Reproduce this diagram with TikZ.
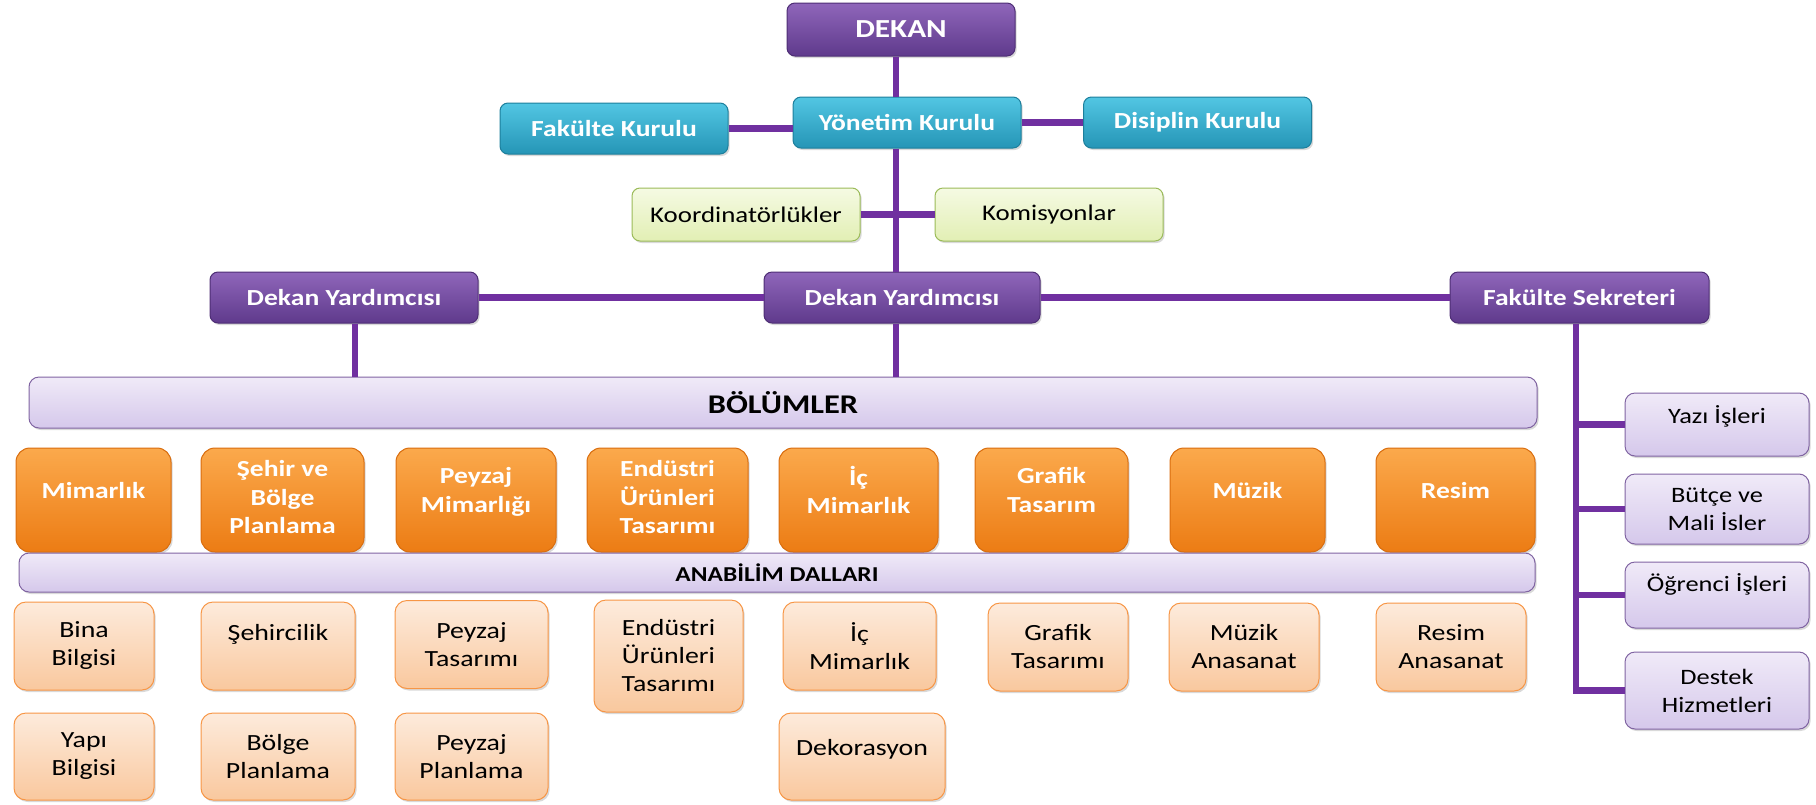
\documentclass[tikz,border=0pt]{standalone}
\usepackage{fontspec}
\setmainfont{Carlito}[FakeStretch=1.2]
\usetikzlibrary{shadows}
\definecolor{linkpurple}{HTML}{7030A0}
\definecolor{purpletop}{HTML}{8F66BA}
\definecolor{purplebot}{HTML}{5F3A8C}
\definecolor{purpleedge}{HTML}{4E2E75}
\definecolor{bluetop}{HTML}{52C6E3}
\definecolor{bluebot}{HTML}{2595B6}
\definecolor{blueedge}{HTML}{1D7F9C}
\definecolor{greentop}{HTML}{F5FAE3}
\definecolor{greenbot}{HTML}{E2EFB4}
\definecolor{greenedge}{HTML}{9BBB59}
\definecolor{lilactop}{HTML}{F0EAF8}
\definecolor{lilacbot}{HTML}{D5C8EB}
\definecolor{lilacedge}{HTML}{8064A2}
\definecolor{orangetop}{HTML}{FBA94C}
\definecolor{orangebot}{HTML}{EC7C14}
\definecolor{orangeedge}{HTML}{D96D0E}
\definecolor{peachtop}{HTML}{FDEBDC}
\definecolor{peachbot}{HTML}{F9C89E}
\definecolor{peachedge}{HTML}{F79646}
\tikzset{%
  % Specifications for style of nodes:
            base/.style = {rectangle, rounded corners=4pt, draw, line width=0.5pt,
                           align=center, inner sep=2pt,
                           drop shadow={opacity=0.3, shadow xshift=0.8pt, shadow yshift=-1pt},
                           font=\fontsize{11.2}{14}\selectfont},
       purplebox/.style = {base, top color=purpletop, bottom color=purplebot, draw=purpleedge,
                           text=white, minimum height=25.5pt,
                           font=\fontsize{11.5}{14}\selectfont\bfseries},
         bluebox/.style = {base, top color=bluetop, bottom color=bluebot, draw=blueedge,
                           text=white, minimum width=114pt, minimum height=25.5pt,
                           font=\fontsize{11.5}{14}\selectfont\bfseries},
        greenbox/.style = {base, top color=greentop, bottom color=greenbot, draw=greenedge,
                           minimum width=114pt, minimum height=26.5pt},
          barbox/.style = {base, top color=lilactop, bottom color=lilacbot, draw=lilacedge,
                           rounded corners=5pt},
       orangebox/.style = {base, top color=orangetop, bottom color=orangebot, draw=orangeedge,
                           rounded corners=7pt, text=white, minimum height=52pt, text depth=10pt,
                           font=\fontsize{11.5}{14.3}\selectfont\bfseries},
        peachbox/.style = {base, top color=peachtop, bottom color=peachbot, draw=peachedge,
                           rounded corners=6pt, minimum height=44pt,
                           font=\fontsize{11.6}{14}\selectfont},
         sidebox/.style = {base, top color=lilactop, bottom color=lilacbot, draw=lilacedge,
                           rounded corners=5pt, minimum width=92pt,
                           font=\fontsize{11}{14}\selectfont},
            link/.style = {draw=linkpurple, line width=3.2pt},
}
\begin{document}
\begin{tikzpicture}[x=0.5pt, y=-0.5pt]
  \useasboundingbox (0,0) rectangle (1816,804);
  % top of the chart
  \node (dekan)      [purplebox, minimum width=114pt, minimum height=26.5pt,
                      font=\fontsize{13}{14}\selectfont\bfseries] at (901,29.5) {DEKAN};
  \node (yonetim)    [bluebox] at (907,122.5) {Yönetim Kurulu};
  \node (fkurul)     [bluebox] at (614,128.5) {Fakülte Kurulu};
  \node (disiplin)   [bluebox] at (1197.5,122.5) {Disiplin Kurulu};
  \node (koord)      [greenbox] at (746,214.5) {Koordinatörlükler};
  \node (komisyon)   [greenbox] at (1049,214.5) {Komisyonlar};
  \node (yardsol)    [purplebox, minimum width=134pt] at (344,297.5) {Dekan Yardımcısı};
  \node (yardorta)   [purplebox, minimum width=138pt] at (902,297.5) {Dekan Yardımcısı};
  \node (sekreter)   [purplebox, minimum width=129.5pt] at (1579.5,297.5) {Fakülte Sekreteri};
  \node (bolumler)   [barbox, minimum width=754pt, minimum height=25.5pt,
                      font=\fontsize{13.5}{14}\selectfont\bfseries] at (783,402.5) {BÖLÜMLER};

  % departments
  \node (mimarlik)   [orangebox, minimum width=77.5pt] at (93.5,500) {Mimarlık};
  \node (sehir)      [orangebox, minimum width=81.5pt, text depth=3pt] at (282.5,500) {Şehir ve\\Bölge\\Planlama};
  \node (peyzaj)     [orangebox, minimum width=80pt] at (476,500) {Peyzaj\\Mimarlığı};
  \node (endustri)   [orangebox, minimum width=80.5pt, text depth=3pt] at (667.5,500) {Endüstri\\Ürünleri\\Tasarımı};
  \node (icmim)      [orangebox, minimum width=79.5pt] at (858.5,500) {İç\\Mimarlık};
  \node (grafik)     [orangebox, minimum width=76.5pt] at (1051.5,500) {Grafik\\Tasarım};
  \node (muzik)      [orangebox, minimum width=77.5pt] at (1247.5,500) {Müzik};
  \node (resim)      [orangebox, minimum width=79.5pt] at (1455.5,500) {Resim};
  \node (anabilim)   [barbox, minimum width=758pt, minimum height=19.5pt,
                      font=\fontsize{10.6}{12}\selectfont\bfseries] at (777,572.5) {ANABİLİM DALLARI};

  % divisions
  \node (bina)       [peachbox, minimum width=70pt] at (84,646) {Bina\\Bilgisi};
  \node (sehircilik) [peachbox, minimum width=77pt] at (278,646) {Şehircilik\\\mbox{}};
  \node (peyzajtas)  [peachbox, minimum width=76.5pt] at (471.5,644.5) {Peyzaj\\Tasarımı};
  \node (endtas)     [peachbox, minimum width=74.5pt, minimum height=56pt] at (668.5,656) {Endüstri\\Ürünleri\\Tasarımı};
  \node (icmimarlik) [peachbox, minimum width=76.5pt] at (859.5,646) {İç\\Mimarlık};
  \node (grafiktas)  [peachbox, minimum width=70pt] at (1058,647) {Grafik\\Tasarımı};
  \node (muzikana)   [peachbox, minimum width=75pt] at (1244,647) {Müzik\\Anasanat};
  \node (resimana)   [peachbox, minimum width=75pt] at (1451,647) {Resim\\Anasanat};
  \node (yapi)       [peachbox, minimum width=70pt, minimum height=43.5pt] at (84,756.5) {Yapı\\Bilgisi};
  \node (bolge)      [peachbox, minimum width=77pt, minimum height=43.5pt] at (278,756.5) {Bölge\\Planlama};
  \node (peyzajplan) [peachbox, minimum width=76.5pt, minimum height=43.5pt] at (471.5,756.5) {Peyzaj\\Planlama};
  \node (dekor)      [peachbox, minimum width=83pt, minimum height=43.5pt, text depth=9pt] at (862,756.5) {Dekorasyon};

  % secretary units
  \node (yazi)       [sidebox, minimum height=31.5pt, text depth=9.5pt] at (1717,424.5) {Yazı İşleri};
  \node (butce)      [sidebox, minimum height=35pt] at (1717,509) {Bütçe ve\\Mali İsler};
  \node (ogrenci)    [sidebox, minimum height=33pt, text depth=12pt] at (1717,595) {Öğrenci İşleri};
  \node (destek)     [sidebox, minimum height=38.5pt] at (1717,690.5) {Destek\\Hizmetleri};

  % connectors
  \coordinate (midline)   at (896,0);
  \coordinate (leftline)  at (355,0);
  \coordinate (rightline) at (1576,0);
  \draw[link] (dekan.south -| midline) -- (yonetim.north -| midline);
  \draw[link] (yonetim.south -| midline) -- (yardorta.north -| midline);
  \draw[link] (yardorta.south -| midline) -- (bolumler.north -| midline);
  \draw[link] (fkurul.east) -- (fkurul.east -| yonetim.west);
  \draw[link] (yonetim.east) -- (disiplin.west);
  \draw[link] (koord.east) -- (komisyon.west);
  \draw[link] (yardsol.east) -- (yardorta.west);
  \draw[link] (yardorta.east) -- (sekreter.west);
  \draw[link] (yardsol.south -| leftline) -- (bolumler.north -| leftline);
  \draw[link] (sekreter.south -| rightline) |- (destek.west);
  \draw[link] (yazi.west -| rightline) -- (yazi.west);
  \draw[link] (butce.west -| rightline) -- (butce.west);
  \draw[link] (ogrenci.west -| rightline) -- (ogrenci.west);
\end{tikzpicture}
\end{document}
